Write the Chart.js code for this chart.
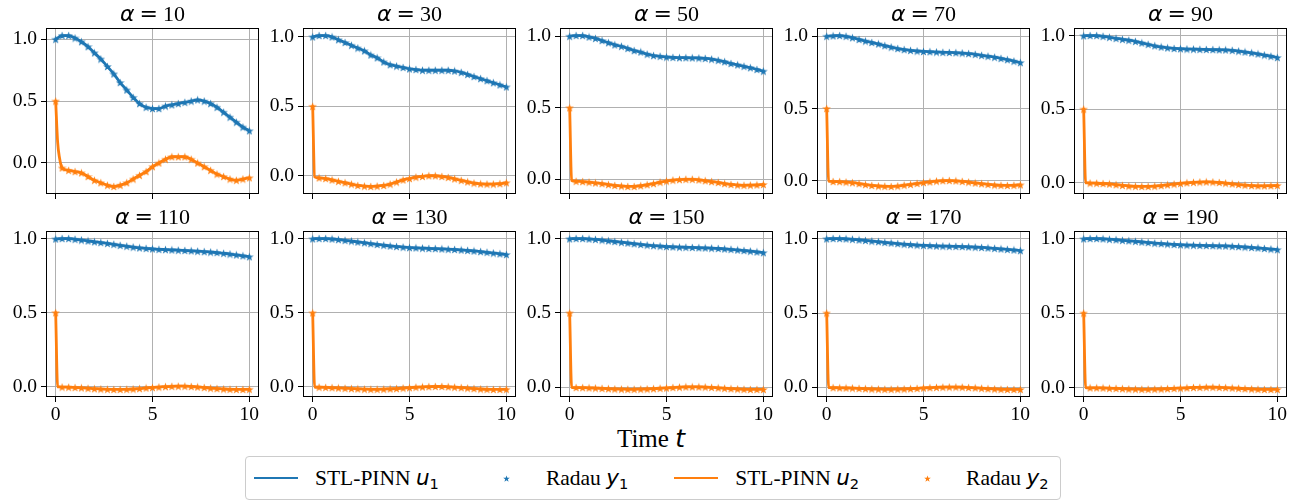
<!DOCTYPE html>
<html>
<head>
<meta charset="utf-8">
<title>Radau vs STL-PINN</title>
<script src="https://cdn.jsdelivr.net/npm/chart.js@4.4.1/dist/chart.umd.min.js"></script>
<style>
  body { margin: 0; background: #fff; width: 1302px; height: 501px; position: relative; overflow: hidden;
         font-family: "Liberation Serif", serif; color: #000; }
  canvas.panel { position: absolute; }
  .m { font-family: "DejaVu Sans"; font-style: italic; }
  .m sub { font-style: normal; font-size: 0.68em; vertical-align: -0.3em; line-height: 0; }
  #xlabel { position: absolute; left: 0; width: 1302px; top: 425px; text-align: center;
            font-size: 25px; line-height: 28px; }
  #legend { position: absolute; left: 245px; top: 456px; height: 44px; box-sizing: border-box;
            border: 1px solid #cccccc; border-radius: 4px; display: flex; align-items: center;
            padding: 0 12px 0 8px; font-size: 21.5px; white-space: nowrap; }
  .item { display: flex; align-items: center; }
  .item + .item { margin-left: 46px; }
  .handle { width: 44px; display: inline-flex; justify-content: center; align-items: center; margin-right: 17px; }
  .ln { width: 44px; height: 2.7px; }
</style>
</head>
<body>

<div id="xlabel">Time <span class="m">t</span></div>

<div id="legend">
  <div class="item"><span class="handle"><span class="ln" style="background:#1f77b4"></span></span>
    <span>STL-PINN <span class="m">u<sub>1</sub></span></span></div>
  <div class="item"><span class="handle"><canvas class="mk" data-color="#1f77b4" width="7" height="7"></canvas></span>
    <span>Radau <span class="m">y<sub>1</sub></span></span></div>
  <div class="item"><span class="handle"><span class="ln" style="background:#ff7f0e"></span></span>
    <span>STL-PINN <span class="m">u<sub>2</sub></span></span></div>
  <div class="item"><span class="handle"><canvas class="mk" data-color="#ff7f0e" width="7" height="7"></canvas></span>
    <span>Radau <span class="m">y<sub>2</sub></span></span></div>
</div>

<script>
// stiffness parameter of each panel
const alphas = [10, 30, 50, 70, 90, 110, 130, 150, 170, 190];

// Radau evaluation times
const tRadau = [0, 0.33, 0.67, 1, 1.33, 1.67, 2, 2.33, 2.67, 3, 3.33, 3.67, 4, 4.33, 4.67, 5,
                5.33, 5.67, 6, 6.33, 6.67, 7, 7.33, 7.67, 8, 8.33, 8.67, 9, 9.33, 9.67, 10];

// Radau y1, one row per alpha
const y1Radau = [
  [1.00, 1.03, 1.03, 1.01, 0.98, 0.94, 0.89, 0.84, 0.78, 0.72, 0.65, 0.59, 0.53, 0.48, 0.45, 0.44,
   0.44, 0.46, 0.47, 0.48, 0.49, 0.50, 0.51, 0.50, 0.48, 0.45, 0.41, 0.37, 0.33, 0.29, 0.26],
  [1.00, 1.01, 1.01, 1.00, 0.98, 0.96, 0.94, 0.92, 0.90, 0.87, 0.85, 0.82, 0.80, 0.79, 0.78, 0.77,
   0.765, 0.76, 0.76, 0.76, 0.76, 0.76, 0.755, 0.745, 0.73, 0.715, 0.70, 0.685, 0.67, 0.655, 0.64],
  [1.0, 1.005, 1.005, 0.995, 0.985, 0.97, 0.955, 0.94, 0.93, 0.915, 0.90, 0.89, 0.875, 0.865, 0.86, 0.855,
   0.852, 0.85, 0.85, 0.849, 0.848, 0.845, 0.84, 0.832, 0.822, 0.81, 0.80, 0.79, 0.78, 0.768, 0.756],
  [1.0, 1.003, 1.005, 1.0, 0.99, 0.978, 0.967, 0.957, 0.947, 0.935, 0.925, 0.915, 0.908, 0.902, 0.898, 0.895,
   0.893, 0.891, 0.889, 0.888, 0.886, 0.884, 0.88, 0.875, 0.868, 0.862, 0.855, 0.847, 0.838, 0.828, 0.818],
  [1.0, 1.002, 1.002, 0.997, 0.99, 0.983, 0.976, 0.97, 0.962, 0.952, 0.942, 0.932, 0.924, 0.918, 0.914, 0.912,
   0.91, 0.909, 0.908, 0.907, 0.906, 0.905, 0.904, 0.901, 0.896, 0.89, 0.884, 0.877, 0.869, 0.861, 0.852],
  [1.0, 1.003, 1.003, 0.998, 0.993, 0.987, 0.981, 0.976, 0.97, 0.964, 0.957, 0.951, 0.945, 0.94, 0.936, 0.933,
   0.93, 0.928, 0.926, 0.924, 0.922, 0.92, 0.917, 0.914, 0.911, 0.908, 0.903, 0.898, 0.892, 0.886, 0.88],
  [1.0, 1.002, 1.002, 0.999, 0.995, 0.99, 0.985, 0.979, 0.974, 0.968, 0.962, 0.957, 0.952, 0.948, 0.944, 0.941,
   0.939, 0.937, 0.935, 0.934, 0.932, 0.93, 0.928, 0.925, 0.922, 0.918, 0.914, 0.909, 0.904, 0.899, 0.894],
  [1.0, 1.002, 1.002, 0.999, 0.996, 0.992, 0.987, 0.982, 0.977, 0.972, 0.967, 0.962, 0.958, 0.954, 0.951, 0.948,
   0.946, 0.944, 0.943, 0.942, 0.94, 0.939, 0.937, 0.935, 0.932, 0.929, 0.925, 0.921, 0.917, 0.912, 0.907],
  [1.0, 1.002, 1.002, 1.0, 0.997, 0.993, 0.989, 0.985, 0.981, 0.976, 0.972, 0.968, 0.964, 0.961, 0.958, 0.956,
   0.954, 0.952, 0.951, 0.95, 0.949, 0.948, 0.946, 0.944, 0.942, 0.939, 0.936, 0.932, 0.929, 0.925, 0.921],
  [1.0, 1.002, 1.002, 1.0, 0.997, 0.994, 0.99, 0.987, 0.983, 0.979, 0.975, 0.971, 0.968, 0.965, 0.962, 0.96,
   0.958, 0.957, 0.956, 0.955, 0.954, 0.953, 0.952, 0.95, 0.948, 0.945, 0.942, 0.939, 0.935, 0.931, 0.927]
];

// Radau y2, one row per alpha
const y2Radau = [
  [0.50, -0.04, -0.06, -0.07, -0.08, -0.11, -0.14, -0.16, -0.18, -0.19, -0.18, -0.16, -0.13, -0.10, -0.07, -0.03,
   0.00, 0.03, 0.05, 0.05, 0.05, 0.03, 0.00, -0.03, -0.06, -0.09, -0.11, -0.13, -0.14, -0.13, -0.12],
  [0.50, -0.015, -0.02, -0.03, -0.04, -0.05, -0.06, -0.07, -0.075, -0.077, -0.075, -0.07, -0.06, -0.045, -0.03, -0.02,
   -0.01, -0.005, 0.0, 0.0, -0.005, -0.012, -0.022, -0.033, -0.044, -0.053, -0.058, -0.06, -0.06, -0.057, -0.05],
  [0.5, -0.014, -0.016, -0.02, -0.025, -0.03, -0.037, -0.043, -0.047, -0.05, -0.05, -0.045, -0.038, -0.03, -0.02, -0.012,
   -0.006, -0.002, 0.0, 0.0, -0.004, -0.01, -0.016, -0.022, -0.03, -0.036, -0.04, -0.042, -0.041, -0.039, -0.036],
  [0.5, -0.005, -0.006, -0.009, -0.013, -0.019, -0.026, -0.032, -0.036, -0.038, -0.039, -0.036, -0.03, -0.025, -0.018, -0.012,
   -0.007, -0.002, 0.001, 0.002, 0.0, -0.004, -0.009, -0.015, -0.02, -0.025, -0.029, -0.031, -0.032, -0.031, -0.028],
  [0.5, -0.004, -0.005, -0.007, -0.01, -0.015, -0.02, -0.024, -0.026, -0.027, -0.027, -0.025, -0.021, -0.016, -0.011, -0.006,
   -0.002, 0.001, 0.003, 0.004, 0.003, 0.0, -0.004, -0.009, -0.014, -0.018, -0.021, -0.023, -0.023, -0.022, -0.02],
  [0.5, -0.004, -0.005, -0.007, -0.009, -0.012, -0.015, -0.017, -0.019, -0.02, -0.02, -0.019, -0.017, -0.014, -0.01, -0.007,
   -0.004, -0.001, 0.001, 0.002, 0.002, 0.0, -0.003, -0.007, -0.011, -0.014, -0.017, -0.019, -0.02, -0.02, -0.019],
  [0.5, -0.003, -0.004, -0.006, -0.008, -0.01, -0.012, -0.014, -0.016, -0.017, -0.017, -0.016, -0.014, -0.012, -0.009, -0.006,
   -0.003, -0.001, 0.001, 0.002, 0.002, 0.0, -0.003, -0.006, -0.009, -0.012, -0.015, -0.017, -0.018, -0.018, -0.017],
  [0.5, -0.003, -0.004, -0.005, -0.007, -0.009, -0.011, -0.013, -0.014, -0.015, -0.015, -0.014, -0.013, -0.011, -0.008, -0.006,
   -0.003, -0.001, 0.001, 0.001, 0.001, 0.0, -0.002, -0.005, -0.008, -0.011, -0.013, -0.015, -0.016, -0.016, -0.016],
  [0.5, -0.003, -0.004, -0.005, -0.006, -0.008, -0.01, -0.012, -0.013, -0.014, -0.014, -0.013, -0.012, -0.01, -0.008, -0.005,
   -0.003, -0.001, 0.0, 0.001, 0.001, 0.0, -0.002, -0.004, -0.007, -0.01, -0.012, -0.014, -0.015, -0.015, -0.015],
  [0.5, -0.003, -0.003, -0.004, -0.006, -0.007, -0.009, -0.011, -0.012, -0.013, -0.013, -0.012, -0.011, -0.009, -0.007, -0.005,
   -0.003, -0.001, 0.0, 0.001, 0.001, 0.0, -0.002, -0.004, -0.006, -0.009, -0.011, -0.013, -0.014, -0.014, -0.014]
];

// the PINN u2 drops sharply right after t = 0; extra samples of that drop
const tHead = [0.1, 0.2];
const u2Head = [
  [0.17, 0.04], [-0.008, -0.013], [-0.008, -0.012], [-0.003, -0.004], [-0.002, -0.003],
  [-0.002, -0.003], [-0.002, -0.003], [-0.002, -0.003], [-0.002, -0.003], [-0.002, -0.003]
];

const xTicks = [0, 5, 10];
const yTicks = [0, 0.5, 1.0];

const BLUE = '#1f77b4';
const ORANGE = '#ff7f0e';

// panel boxes (plot area) in page pixels
const colLeft = [46, 303, 560, 817, 1074];
const rowTop = [28, 231];
const boxW = 213, boxH = 166;
const padL = 46, padT = 28, padR = 6, padB = 30;

function drawStar(g, color, size) {
  g.clearRect(0, 0, size, size);
  g.fillStyle = color;
  g.beginPath();
  for (let i = 0; i < 10; i++) {
    const r = i % 2 ? size * 0.2 : size / 2;
    const a = -Math.PI / 2 + i * Math.PI / 5;
    g.lineTo(size / 2 + r * Math.cos(a), size / 2 + 0.4 + r * Math.sin(a));
  }
  g.closePath();
  g.fill();
}

function starImage(color, size) {
  const c = document.createElement('canvas');
  c.width = c.height = size;
  drawStar(c.getContext('2d'), color, size);
  return c;
}

const blueStar = starImage(BLUE, 9);
const orangeStar = starImage(ORANGE, 9);

document.querySelectorAll('canvas.mk').forEach(c => drawStar(c.getContext('2d'), c.dataset.color, 7));

// title "α = N" drawn in mixed fonts above the plot area
const panelTitle = {
  id: 'panelTitle',
  afterDraw(chart, args, opts) {
    const { ctx, chartArea } = chart;
    const parts = [
      { text: 'α', font: 'italic 22px "DejaVu Sans"', gap: 5 },
      { text: '=', font: '22px "DejaVu Sans"', gap: 5 },
      { text: String(opts.alpha), font: '22px "Liberation Serif"', gap: 0 }
    ];
    ctx.save();
    let total = 0;
    parts.forEach(p => { ctx.font = p.font; p.w = ctx.measureText(p.text).width; total += p.w + p.gap; });
    let x = (chartArea.left + chartArea.right) / 2 - total / 2;
    const y = chartArea.top - 7.5;
    ctx.fillStyle = '#000';
    ctx.textBaseline = 'alphabetic';
    ctx.textAlign = 'left';
    parts.forEach(p => { ctx.font = p.font; ctx.fillText(p.text, x, y); x += p.w + p.gap; });
    ctx.restore();
  }
};

// black frame round the plot area
const frame = {
  id: 'frame',
  afterDraw(chart) {
    const { ctx, chartArea: a } = chart;
    ctx.save();
    ctx.strokeStyle = '#000';
    ctx.lineWidth = 1;
    const l = Math.round(a.left) + 0.5, t = Math.round(a.top) + 0.5;
    const r = Math.round(a.right) - 0.5, b = Math.round(a.bottom) - 0.5;
    ctx.strokeRect(l, t, r - l, b - t);
    ctx.restore();
  }
};

const tickFont = { family: '"Liberation Serif"', size: 19.5 };

function makePanel(i) {
  const row = Math.floor(i / 5), col = i % 5;
  const canvas = document.createElement('canvas');
  canvas.className = 'panel';
  canvas.width = padL + boxW + padR;
  canvas.height = padT + boxH + padB;
  canvas.style.left = (colLeft[col] - padL) + 'px';
  canvas.style.top = (rowTop[row] - padT) + 'px';
  document.body.appendChild(canvas);

  const y1 = y1Radau[i], y2 = y2Radau[i], head = u2Head[i];
  const stars1 = tRadau.map((t, k) => ({ x: t, y: y1[k] }));
  const stars2 = tRadau.map((t, k) => ({ x: t, y: y2[k] }));
  const line1 = stars1.slice();
  const line2 = [stars2[0]].concat(tHead.map((t, k) => ({ x: t, y: head[k] })), stars2.slice(1));

  const all = y1.concat(y2, head);
  const lo = Math.min(...all), hi = Math.max(...all);
  const pad = (hi - lo) * 0.05;

  new Chart(canvas, {
    type: 'line',
    data: {
      datasets: [
        { label: 'STL-PINN u1', data: line1, borderColor: BLUE, borderWidth: 2.8, pointRadius: 0,
          cubicInterpolationMode: 'monotone', borderJoinStyle: 'round', borderCapStyle: 'round', order: 4 },
        { label: 'Radau y1', data: stars1, showLine: false, pointStyle: blueStar, pointRadius: 4.5, order: 3 },
        { label: 'STL-PINN u2', data: line2, borderColor: ORANGE, borderWidth: 2.8, pointRadius: 0,
          cubicInterpolationMode: 'monotone', borderJoinStyle: 'round', borderCapStyle: 'round', order: 2 },
        { label: 'Radau y2', data: stars2, showLine: false, pointStyle: orangeStar, pointRadius: 4.5, order: 1 }
      ]
    },
    options: {
      responsive: false,
      animation: false,
      devicePixelRatio: 1,
      layout: { padding: { left: 0, top: padT, right: padR, bottom: 0 } },
      scales: {
        x: {
          type: 'linear', min: -0.5, max: 10.5,
          afterBuildTicks: ax => { ax.ticks = xTicks.map(v => ({ value: v })); },
          afterFit: ax => { ax.height = padB; },
          grid: { color: '#b0b0b0', lineWidth: 1, tickColor: '#000', tickLength: 5, tickWidth: 1 },
          border: { display: false },
          ticks: { font: tickFont, color: '#000', padding: 1, maxRotation: 0,
                   callback: v => row === 1 ? String(v) : '' }
        },
        y: {
          min: lo - pad, max: hi + pad,
          afterBuildTicks: ax => { ax.ticks = yTicks.map(v => ({ value: v })); },
          afterFit: ax => { ax.width = padL; },
          grid: { color: '#b0b0b0', lineWidth: 1, tickColor: '#000', tickLength: 5, tickWidth: 1 },
          border: { display: false },
          ticks: { font: tickFont, color: '#000', padding: 4, callback: v => v.toFixed(1) }
        }
      },
      plugins: {
        legend: { display: false },
        tooltip: { enabled: false },
        panelTitle: { alpha: alphas[i] }
      }
    },
    plugins: [panelTitle, frame]
  });
}

alphas.forEach((a, i) => makePanel(i));
</script>
</body>
</html>
